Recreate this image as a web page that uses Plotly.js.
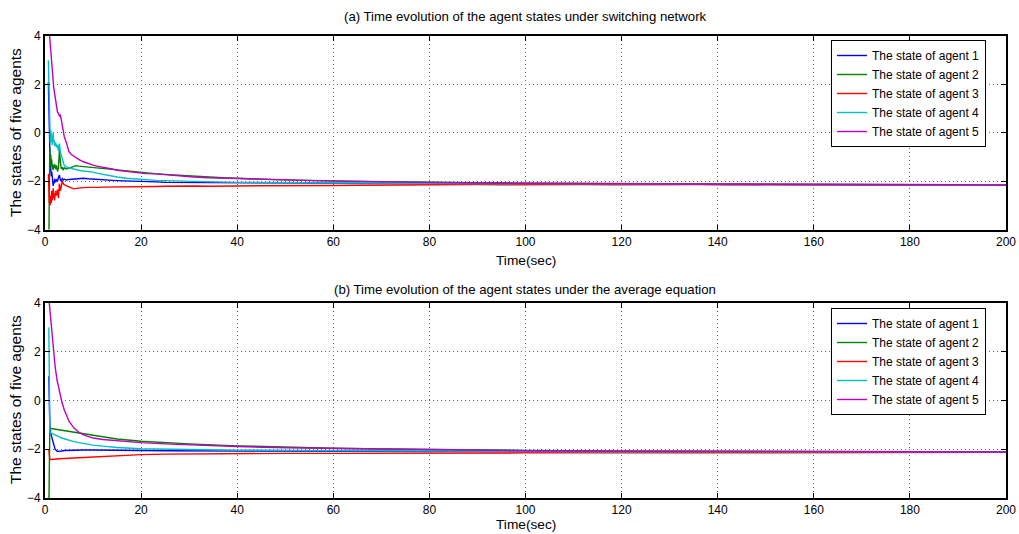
<!DOCTYPE html>
<html>
<head>
<meta charset="utf-8">
<script src="https://cdn.plot.ly/plotly-3.0.1.min.js"></script>
<style>html,body{margin:0;padding:0;background:#fff;}#chart{width:1019px;height:534px;}</style>
</head>
<body>
<div id="chart"></div>
<script>
// ---------- data ----------
var agentNames = ["The state of agent 1","The state of agent 2","The state of agent 3","The state of agent 4","The state of agent 5"];
var agentColors = ["#0000ff","#008000","#ff0000","#00bfbf","#bf00bf"];
var xTicks = [0,20,40,60,80,100,120,140,160,180,200];
var yTicks = [-4,-2,0,2,4];

// (a) switching network
var timeA = [0.7,0.8,0.9,1.0,1.1,1.2,1.3,1.4,1.5,1.6,1.7,1.8,1.9,2.0,
  2.2,2.4,2.6,2.8,3.0,3.2,3.4,3.6,3.8,4.0,
  4.5,5,5.5,6,6.5,7,
  8,9,10,11,12,13,14,15,
  17,19,21,23,25,
  28,31,34,37,40,
  44,48,52,56,60,
  65,70,75,80,85,90,95,100,
  106,112,118,124,130,136,142,148,154,160,166,172,178,184,190,196,200];

var a1 = [2.1,0.7,-0.3,-1.3,-1.6,-1.5,-1.8,-1.6,-2.0,-1.9,-2.2,-2.0,-2.1,-1.9,
  -2.05,-1.95,-2.0,-1.85,-1.75,-1.95,-2.0,-1.9,-1.95,-1.92,
  -1.95,-1.93,-1.92,-1.9,-1.88,-1.87,
  -1.88,-1.9,-1.92,-1.94,-1.95,-1.96,-1.97,-1.98,
  -2.0,-2.02,-2.04,-2.03,-2.05,
  -2.05,-2.06,-2.06,-2.07,-2.07,
  -2.08,-2.08,-2.07,-2.08,-2.09,
  -2.09,-2.1,-2.09,-2.1,-2.1,-2.11,-2.1,-2.11,
  -2.11,-2.12,-2.11,-2.12,-2.12,-2.13,-2.13,-2.13,-2.14,-2.14,-2.14,-2.15,-2.15,-2.15,-2.16,-2.16,-2.16];

var a2 = [-4.5,-4.5,-2.5,-0.6,-1.2,-0.9,-1.4,-1.1,-1.5,-1.3,-1.55,-1.35,-1.45,-1.3,
  -1.5,-1.35,-1.6,-1.45,-0.7,-1.2,-1.5,-1.42,-1.55,-1.45,
  -1.5,-1.46,-1.42,-1.38,-1.36,-1.38,
  -1.4,-1.42,-1.45,-1.48,-1.47,-1.5,-1.52,-1.55,
  -1.58,-1.62,-1.67,-1.69,-1.72,
  -1.76,-1.8,-1.84,-1.86,-1.88,
  -1.92,-1.94,-1.96,-1.98,-1.99,
  -2.01,-2.02,-2.03,-2.05,-2.05,-2.06,-2.07,-2.08,
  -2.09,-2.09,-2.1,-2.11,-2.11,-2.12,-2.12,-2.13,-2.13,-2.14,-2.14,-2.14,-2.15,-2.15,-2.15,-2.16,-2.16];

var a3 = [-1.7,-2.2,-2.9,-2.8,-3.0,-2.6,-2.9,-2.4,-2.8,-2.5,-2.3,-2.7,-2.5,-2.8,
  -2.4,-2.6,-2.35,-2.7,-2.1,-2.4,-2.2,-2.0,-2.1,-2.15,
  -2.2,-2.25,-2.28,-2.32,-2.3,-2.28,
  -2.27,-2.26,-2.27,-2.26,-2.25,-2.25,-2.24,-2.24,
  -2.23,-2.22,-2.23,-2.22,-2.21,
  -2.22,-2.2,-2.21,-2.19,-2.2,
  -2.19,-2.18,-2.19,-2.17,-2.18,
  -2.17,-2.16,-2.17,-2.15,-2.16,-2.14,-2.15,-2.14,
  -2.15,-2.14,-2.15,-2.14,-2.15,-2.14,-2.15,-2.15,-2.15,-2.16,-2.15,-2.16,-2.16,-2.16,-2.16,-2.17,-2.17];

var a4 = [3.0,2.0,0.5,-0.1,-0.4,0.1,-0.3,-0.1,-0.5,-0.2,0.0,-0.4,-0.3,-0.55,
  -0.4,-0.6,-0.5,-0.75,-0.45,-0.8,-0.95,-1.15,-1.25,-1.35,
  -1.42,-1.45,-1.48,-1.5,-1.52,-1.55,
  -1.58,-1.6,-1.63,-1.68,-1.72,-1.76,-1.8,-1.83,
  -1.88,-1.92,-1.95,-1.97,-1.98,
  -2.0,-2.02,-2.03,-2.04,-2.05,
  -2.06,-2.06,-2.07,-2.07,-2.08,
  -2.08,-2.09,-2.08,-2.09,-2.1,-2.1,-2.11,-2.1,
  -2.11,-2.12,-2.12,-2.12,-2.13,-2.13,-2.12,-2.14,-2.14,-2.14,-2.15,-2.15,-2.15,-2.15,-2.16,-2.16,-2.16];

var a5 = [4.4,4.3,4.1,3.9,3.6,3.3,3.0,2.8,2.6,2.3,2.1,1.9,1.75,1.6,
  1.35,1.1,0.85,0.8,0.7,0.75,0.5,0.35,0.05,-0.15,
  -0.45,-0.78,-0.9,-0.98,-1.05,-1.1,
  -1.2,-1.28,-1.34,-1.39,-1.42,-1.47,-1.5,-1.55,
  -1.6,-1.64,-1.69,-1.7,-1.74,
  -1.78,-1.83,-1.86,-1.88,-1.9,
  -1.93,-1.95,-1.97,-1.98,-2.0,
  -2.02,-2.03,-2.05,-2.06,-2.07,-2.08,-2.08,-2.09,
  -2.1,-2.1,-2.11,-2.12,-2.12,-2.12,-2.13,-2.13,-2.14,-2.14,-2.14,-2.15,-2.15,-2.15,-2.15,-2.16,-2.16];

// (b) average equation
var timeB = [0.8,0.9,1.0,1.2,1.5,1.8,2.1,2.5,3,3.5,4,5,6,7,8,10,12,15,20,25,30,40,50,60,70,80,100,120,140,160,180,200];
var b1 = [1.0,0.0,-1.0,-1.35,-1.6,-1.85,-2.0,-2.08,-2.09,-2.07,-2.05,-2.04,-2.03,-2.03,-2.03,-2.03,-2.04,-2.04,-2.05,-2.06,-2.06,-2.07,-2.08,-2.08,-2.09,-2.09,-2.1,-2.1,-2.11,-2.11,-2.11,-2.11];
var b2 = [-4.5,-2.0,-1.15,-1.15,-1.16,-1.17,-1.18,-1.19,-1.2,-1.21,-1.22,-1.25,-1.28,-1.32,-1.36,-1.44,-1.5,-1.58,-1.67,-1.73,-1.78,-1.86,-1.92,-1.96,-1.99,-2.02,-2.05,-2.07,-2.08,-2.09,-2.1,-2.11];
var b3 = [-2.0,-2.42,-2.42,-2.42,-2.41,-2.41,-2.4,-2.4,-2.39,-2.39,-2.38,-2.37,-2.36,-2.35,-2.34,-2.32,-2.3,-2.26,-2.22,-2.2,-2.19,-2.18,-2.17,-2.17,-2.16,-2.16,-2.15,-2.15,-2.15,-2.14,-2.14,-2.13];
var b4 = [3.0,0.5,-1.3,-1.33,-1.36,-1.4,-1.43,-1.47,-1.5,-1.54,-1.57,-1.64,-1.69,-1.73,-1.77,-1.83,-1.87,-1.93,-1.98,-2.0,-2.02,-2.04,-2.05,-2.06,-2.07,-2.08,-2.09,-2.1,-2.1,-2.11,-2.11,-2.11];
var b5 = [4.2,4.0,3.6,3.2,2.5,1.9,1.4,0.85,0.35,-0.05,-0.38,-0.85,-1.12,-1.3,-1.41,-1.54,-1.6,-1.66,-1.73,-1.78,-1.82,-1.89,-1.94,-1.97,-2.0,-2.03,-2.06,-2.08,-2.09,-2.1,-2.11,-2.11];

var titleA = "(a) Time evolution of the agent states under switching network";
var titleB = "(b) Time evolution of the agent states under the average equation";
var xLabel = "Time(sec)";
var yLabel = "The states of five agents";

// ---------- build ----------
var FONT = "Liberation Sans, Arial, sans-serif";
var seriesA = [a1,a2,a3,a4,a5];
var seriesB = [b1,b2,b3,b4,b5];
var traces = [];
seriesA.forEach(function(s,i){
  traces.push({type:"scatter",mode:"lines",x:timeA,y:s,name:agentNames[i],
    line:{color:agentColors[i],width:1.4},xaxis:"x",yaxis:"y",legend:"legend"});
});
seriesB.forEach(function(s,i){
  traces.push({type:"scatter",mode:"lines",x:timeB,y:s,name:agentNames[i],
    line:{color:agentColors[i],width:1.4},xaxis:"x2",yaxis:"y2",legend:"legend2"});
});

function ax(anchor, dom, range, vals){
  return {domain:dom, anchor:anchor, range:range, tickvals:vals, ticks:"inside", ticklen:5,
    tickcolor:"#000", showline:true, linecolor:"#000", linewidth:2, mirror:"ticks",
    showgrid:true, gridcolor:"#666", griddash:"1px,3px", gridwidth:1, zeroline:false,
    tickfont:{family:FONT,size:12,color:"#000"}};
}
var W=1019, H=534;
var xd=[45/W, 1006/W];
var layout = {
  width:W, height:H, margin:{l:0,r:0,t:0,b:0},
  paper_bgcolor:"#fff", plot_bgcolor:"#fff",
  font:{family:FONT,size:12,color:"#000"},
  xaxis: ax("y", xd, [0,200], xTicks),
  yaxis: ax("x", [1-229.5/H, 1-36/H], [-4,4], yTicks),
  xaxis2: ax("y2", xd, [0,200], xTicks),
  yaxis2: ax("x2", [1-498/H, 1-303/H], [-4,4], yTicks),
  legend:{x:986/W, xanchor:"right", y:1-40/H, yanchor:"top", bgcolor:"#fff",
    bordercolor:"#000", borderwidth:1, font:{family:FONT,size:12,color:"#000"}, tracegroupgap:0},
  legend2:{x:986/W, xanchor:"right", y:1-308/H, yanchor:"top", bgcolor:"#fff",
    bordercolor:"#000", borderwidth:1, font:{family:FONT,size:12,color:"#000"}, tracegroupgap:0},
  annotations:[
    {text:titleA, xref:"paper", yref:"paper", x:525/W, y:1-17/H, showarrow:false, xanchor:"center", yanchor:"middle", font:{family:FONT,size:13.2}},
    {text:titleB, xref:"paper", yref:"paper", x:525/W, y:1-289/H, showarrow:false, xanchor:"center", yanchor:"middle", font:{family:FONT,size:13.2}},
    {text:xLabel, xref:"paper", yref:"paper", x:526/W, y:1-260/H, showarrow:false, xanchor:"center", yanchor:"middle", font:{family:FONT,size:13.7}},
    {text:xLabel, xref:"paper", yref:"paper", x:526/W, y:0, showarrow:false, xanchor:"center", yanchor:"bottom", font:{family:FONT,size:13.7}},
    {text:yLabel, xref:"paper", yref:"paper", x:15/W, y:1-133/H, showarrow:false, textangle:-90, xanchor:"center", yanchor:"middle", font:{family:FONT,size:15.5}},
    {text:yLabel, xref:"paper", yref:"paper", x:15/W, y:1-400/H, showarrow:false, textangle:-90, xanchor:"center", yanchor:"middle", font:{family:FONT,size:15.5}}
  ]
};
Plotly.newPlot("chart", traces, layout, {displayModeBar:false, staticPlot:true});
</script>
</body>
</html>
